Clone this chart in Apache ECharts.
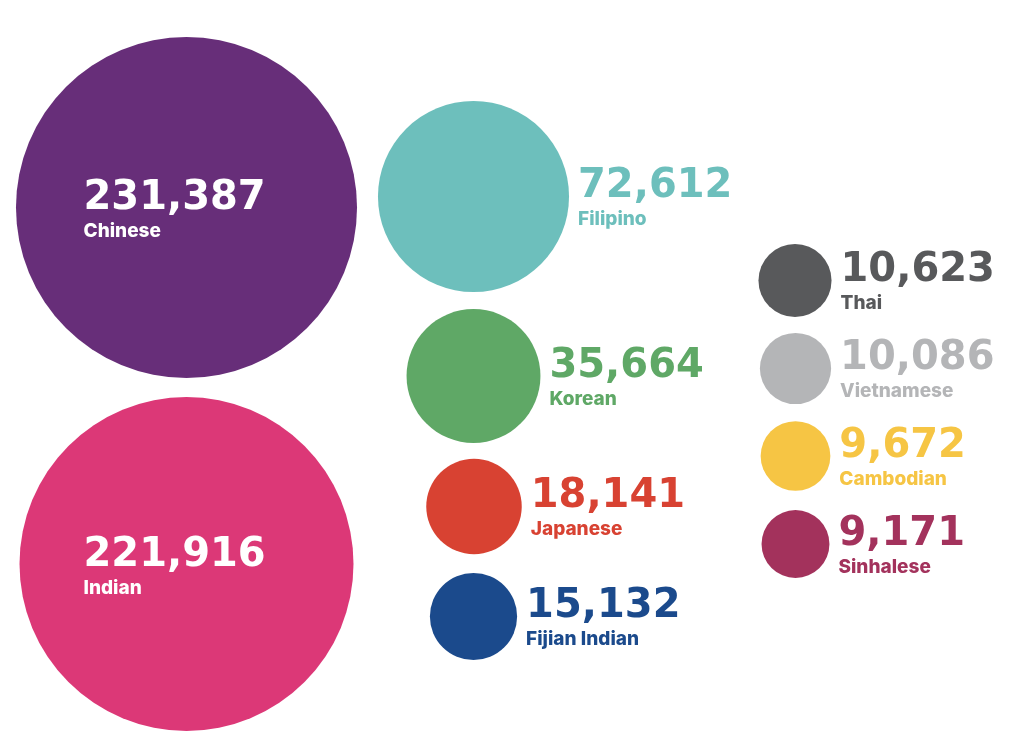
<!DOCTYPE html>
<html>
<head>
<meta charset="utf-8">
<script src="https://cdn.jsdelivr.net/npm/echarts@6/dist/echarts.min.js"></script>
<style>
html,body{margin:0;padding:0;background:#fff;}
#chart{width:1024px;height:750px;}
</style>
</head>
<body>
<div id="chart"></div>
<script>
// Data
var categories = ['Chinese','Indian','Filipino','Korean','Japanese','Fijian Indian','Thai','Vietnamese','Cambodian','Sinhalese'];
var values = [231387,221916,72612,35664,18141,15132,10623,10086,9672,9171];

// Layout (bubble centres in page coordinates) and styles
var layoutX = [186.5,186.5,473.5,473.5,474,473.5,795,795.5,795.5,795.5];
var layoutY = [207.5,564,196.5,376,506.5,616.5,280.5,368.5,456,544];
var colors = ['#672E79','#DC3877','#6DBFBC','#5FA866','#D84232','#1B4A8C','#58595B','#B4B5B7','#F6C544','#A3325C'];
var insideLabel = [true,true,false,false,false,false,false,false,false,false];

var SIZE_K = 0.709; // diameter = k * sqrt(value)
var NUM_FONT = '"DejaVu Sans", sans-serif';
var NAME_FONT = 'Inter, "Noto Sans", sans-serif';

var seriesData = categories.map(function(name, i){
  var inside = insideLabel[i];
  var tc = inside ? '#ffffff' : colors[i];
  return {
    name: name,
    value: [layoutX[i], layoutY[i], values[i]],
    itemStyle: {color: colors[i], opacity: 1},
    label: {
      show: true,
      position: inside ? 'inside' : 'right',
      distance: 9,
      align: 'left',
      verticalAlign: 'middle',
      offset: inside ? [-103, 4] : [0, 3],
      formatter: '{n|' + values[i].toLocaleString('en-US') + '}\n{c|' + name + '}',
      rich: {
        n: {fontFamily: NUM_FONT, fontSize: 40, fontWeight: 'bold', lineHeight: 40, color: tc},
        c: {fontFamily: NAME_FONT, fontSize: 19, fontWeight: 800, lineHeight: 25, color: tc}
      }
    }
  };
});

var chart = echarts.init(document.getElementById('chart'));
chart.setOption({
  animation: false,
  backgroundColor: '#ffffff',
  grid: {left: 0, right: 0, top: 0, bottom: 0},
  xAxis: {type: 'value', min: 0, max: 1024, show: false},
  yAxis: {type: 'value', min: 0, max: 750, inverse: true, show: false},
  series: [{
    type: 'scatter',
    data: seriesData,
    symbol: 'circle',
    symbolSize: function(v){ return SIZE_K * Math.sqrt(v[2]); },
    itemStyle: {opacity: 1},
    emphasis: {disabled: true}
  }]
});
</script>
</body>
</html>
